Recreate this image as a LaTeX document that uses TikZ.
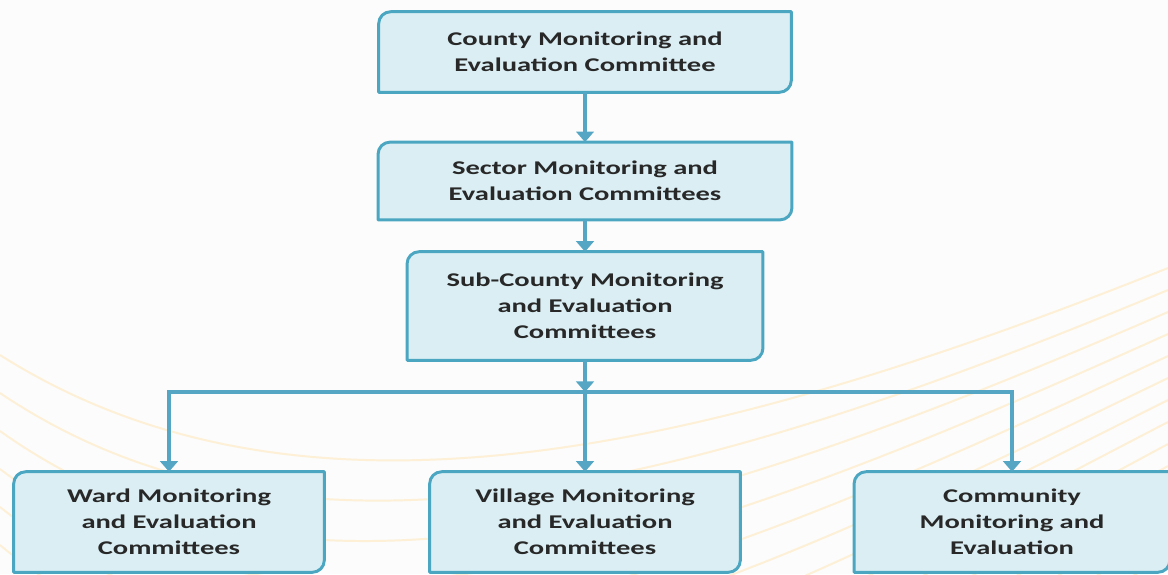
\documentclass[tikz,border=0pt]{standalone}
\usepackage{fontspec}
\usetikzlibrary{arrows.meta,backgrounds}
\newfontfamily\boxfont{Carlito}[FakeStretch=1.47]
\definecolor{boxfill}{RGB}{218,238,243}
\definecolor{boxedge}{RGB}{75,166,194}
\definecolor{flowblue}{RGB}{84,166,196}
\definecolor{boxtext}{RGB}{40,40,40}
\definecolor{swooshcol}{RGB}{253,240,214}
\tikzset{
  unit/.style={align=center, inner sep=0pt, text=boxtext,
    font=\boxfont\bfseries\fontsize{13.8}{18.5}\selectfont},
  boxline/.style={fill=boxfill, draw=boxedge, line width=2.1pt, line join=round},
  flow/.style={draw=flowblue, line width=2.5pt, -{Triangle[width=12.5pt,length=7.5pt]}},
  swoosh/.style={draw=swooshcol, line width=1.4pt},
}
\newcommand{\snipbox}[1]{%
  \filldraw[boxline] (#1.north east) -- ([yshift=0.3cm]#1.south east)
    arc[start angle=0, end angle=-90, radius=0.3cm] -- (#1.south west)
    -- ([yshift=-0.3cm]#1.north west)
    arc[start angle=180, end angle=90, radius=0.3cm] -- cycle;}

\begin{document}
\begin{tikzpicture}[x=0.025cm, y=-0.025cm]
\useasboundingbox (0,0) rectangle (1168,574);
\clip (0,0) rectangle (1168,574);
\begin{scope}[on background layer]
\fill[white!99!black] (0,0) rectangle (1168,574);
\foreach \k in {0,...,13}
  \draw[swoosh] (0,355+38*\k) .. controls (300,545+50*\k) and (700,455+30*\k) .. (1168,268+22*\k);
\end{scope}
\node[unit, minimum width=10.3cm, minimum height=2.0cm] (county) at (585,52)
  {County Monitoring and\\Evaluation Committee};
\node[unit, minimum width=10.33cm, minimum height=1.93cm] (sector) at (585,181)
  {Sector Monitoring and\\Evaluation Committees};
\node[unit, minimum width=8.88cm, minimum height=2.7cm] (subcounty) at (585,306)
  {Sub-County Monitoring\\and Evaluation\\Committees};
\node[unit, minimum width=7.75cm, minimum height=2.5cm] (ward) at (169,522)
  {Ward Monitoring\\and Evaluation\\Committees};
\node[unit, minimum width=7.75cm, minimum height=2.5cm] (village) at (585,522)
  {Village Monitoring\\and Evaluation\\Committees};
\node[unit, minimum width=7.88cm, minimum height=2.5cm] (community) at (1012,522)
  {Community\\Monitoring and\\Evaluation};
\begin{scope}[on background layer]
\foreach \n in {county,sector,subcounty,ward,village,community}
  \snipbox{\n};
\end{scope}
\coordinate (bus) at (585,392);
\draw[flow] (county) -- (sector);
\draw[flow] (sector) -- (subcounty);
\draw[flow] (subcounty) -- (bus);
\draw[flow] (bus) -| (ward);
\draw[flow] (bus) -- (village);
\draw[flow] (bus) -| (community);
\end{tikzpicture}
\end{document}
